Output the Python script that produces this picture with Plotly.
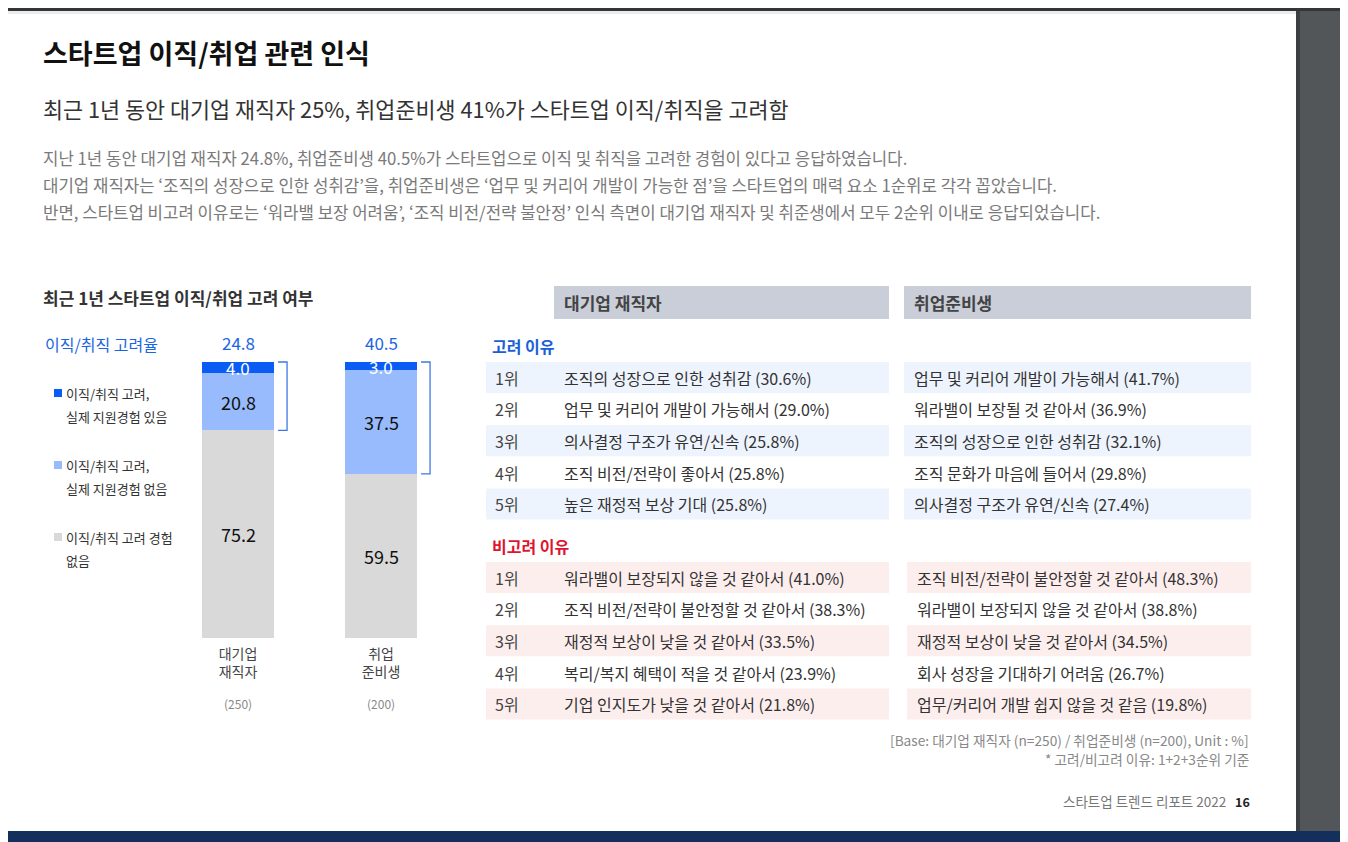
import plotly.graph_objects as go

W, H = 1348, 842
OFF = 8  # 페이지 기본 여백 보정
FONT = "Noto Sans CJK KR"

# 막대 차트 데이터
groups = ["대기업<br>재직자", "취업<br>준비생"]
group_n = ["(250)", "(200)"]
applied = [4.0, 3.0]          # 이직/취직 고려, 실제 지원경험 있음
not_applied = [20.8, 37.5]    # 이직/취직 고려, 실제 지원경험 없음
no_consider = [75.2, 59.5]    # 이직/취직 고려 경험 없음
consider_rate = [24.8, 40.5]

legend_names = [["이직/취직 고려,", "실제 지원경험 있음"],
                ["이직/취직 고려,", "실제 지원경험 없음"],
                ["이직/취직 고려 경험", "없음"]]
colors = ["#0a5cf5", "#97bbfc", "#d9d9d9"]

# 표 데이터
ranks = ["1위", "2위", "3위", "4위", "5위"]
emp_pos = ["조직의 성장으로 인한 성취감", "업무 및 커리어 개발이 가능해서", "의사결정 구조가 유연/신속",
           "조직 비전/전략이 좋아서", "높은 재정적 보상 기대"]
emp_pos_pct = [30.6, 29.0, 25.8, 25.8, 25.8]
job_pos = ["업무 및 커리어 개발이 가능해서", "워라밸이 보장될 것 같아서", "조직의 성장으로 인한 성취감",
           "조직 문화가 마음에 들어서", "의사결정 구조가 유연/신속"]
job_pos_pct = [41.7, 36.9, 32.1, 29.8, 27.4]
emp_neg = ["워라밸이 보장되지 않을 것 같아서", "조직 비전/전략이 불안정할 것 같아서", "재정적 보상이 낮을 것 같아서",
           "복리/복지 혜택이 적을 것 같아서", "기업 인지도가 낮을 것 같아서"]
emp_neg_pct = [41.0, 38.3, 33.5, 23.9, 21.8]
job_neg = ["조직 비전/전략이 불안정할 것 같아서", "워라밸이 보장되지 않을 것 같아서", "재정적 보상이 낮을 것 같아서",
           "회사 성장을 기대하기 어려움", "업무/커리어 개발 쉽지 않을 것 같음"]
job_neg_pct = [48.3, 38.8, 34.5, 26.7, 19.8]

body_lines = [
    "지난 1년 동안 대기업 재직자 24.8%, 취업준비생 40.5%가 스타트업으로 이직 및 취직을 고려한 경험이 있다고 응답하였습니다.",
    "대기업 재직자는 ‘조직의 성장으로 인한 성취감’을, 취업준비생은 ‘업무 및 커리어 개발이 가능한 점’을 스타트업의 매력 요소 1순위로 각각 꼽았습니다.",
    "반면, 스타트업 비고려 이유로는 ‘워라밸 보장 어려움’, ‘조직 비전/전략 불안정’ 인식 측면이 대기업 재직자 및 취준생에서 모두 2순위 이내로 응답되었습니다.",
]

fig = go.Figure()

x_idx = list(range(len(groups)))
for vals, col in [(no_consider, colors[2]), (not_applied, colors[1]), (applied, colors[0])]:
    fig.add_trace(go.Bar(x=x_idx, y=vals, marker=dict(color=col, line=dict(width=0)),
                         width=0.503, hoverinfo="skip", showlegend=False))

def px_x(p):
    return (p - OFF) / W

def px_y(p):
    return 1 - (p - OFF) / H

# 막대 영역: 픽셀 기준 위치
bar_bottom, px_per = 638, 2.76
ymax = 110
dom_top = bar_bottom - ymax * px_per
fig.update_layout(
    barmode="stack",
    xaxis=dict(domain=[px_x(166.5), px_x(452.5)], range=[-0.5, 1.5], tickvals=x_idx, ticktext=groups,
               showgrid=False, zeroline=False, showline=False, ticks="", fixedrange=True,
               ticklabelstandoff=6, tickfont=dict(size=14, color="#444", family=FONT)),
    yaxis=dict(domain=[px_y(bar_bottom), px_y(dom_top)], range=[0, ymax], visible=False, fixedrange=True),
    xaxis2=dict(domain=[0, 1], range=[OFF, W + OFF], visible=False, fixedrange=True, anchor="y2"),
    yaxis2=dict(domain=[0, 1], range=[H + OFF, OFF], visible=False, fixedrange=True, anchor="x2"),
)

ann = []
shapes = []

# 막대 내부 값
for i in x_idx:
    base = 0
    for vals, tc, fs in [(no_consider, "#111", 18), (not_applied, "#111", 18), (applied, "white", 17)]:
        ann.append(dict(x=i, y=base + vals[i] / 2, xref="x", yref="y", text=f"{vals[i]:.1f}",
                        showarrow=False, font=dict(size=fs, color=tc, family=FONT)))
        base += vals[i]
    ann.append(dict(x=i, y=100, xref="x", yref="y", yshift=20, text=f"{consider_rate[i]:.1f}",
                    showarrow=False, font=dict(size=17, color="#1a66e0", family=FONT)))
    ann.append(dict(x=i, y=px_y(703), xref="x", yref="paper", yanchor="middle", text=group_n[i],
                    showarrow=False, font=dict(size=12, color="#888", family=FONT)))
    # 고려율 괄호
    lo = 100 - consider_rate[i]
    shapes.append(dict(type="path", xref="x", yref="y",
                       path=f"M {i+0.28},100 L {i+0.343},100 L {i+0.343},{lo} L {i+0.28},{lo}",
                       line=dict(color="#3b78e7", width=1.3)))

def text(x, y, s, size, color, bold=False, xanchor="left"):
    if bold:
        s = f"<b>{s}</b>"
    ann.append(dict(x=x, y=y, xref="x2", yref="y2", text=s, showarrow=False, xanchor=xanchor,
                    yanchor="middle", font=dict(size=size, color=color, family=FONT)))

def rect(x0, y0, x1, y1, color):
    shapes.append(dict(type="rect", xref="x2", yref="y2", x0=x0, y0=y0, x1=x1, y1=y1,
                       fillcolor=color, line=dict(width=0), layer="below"))

# 페이지 테두리
rect(0, 0, W + OFF, 11, "#323639")
rect(1296, 11, W + OFF, 831, "#525659")
rect(1296, 11, 1300, 831, "#3c3f42")
rect(0, 831, W + OFF, H + OFF, "#13305d")
rect(0, 11, 1296, 14, "#ececec")

# 제목과 본문
text(41, 52, "스타트업 이직/취업 관련 인식", 27, "#111", bold=True)
text(41, 108, "최근 1년 동안 대기업 재직자 25%, 취업준비생 41%가 스타트업 이직/취직을 고려함", 21.8, "#333")
for k, line in enumerate(body_lines):
    text(41, 158 + 27 * k, line, 16.75, "#7a7a7a")

text(41, 297, "최근 1년 스타트업 이직/취업 고려 여부", 17, "#333", bold=True)
text(43, 344, "이직/취직 고려율", 16, "#1a66e0")

# 범례
for k, (names, col) in enumerate(zip(legend_names, colors)):
    yy = 393 + 72 * k
    rect(54, yy - 4, 62, yy + 4, col)
    text(64, yy, names[0], 13, "#333")
    text(64, yy + 23, names[1], 13, "#333")

# 표 머리
rect(554, 286, 889, 319, "#c9ced8")
rect(904, 286, 1251, 319, "#c9ced8")
text(562, 302, "대기업 재직자", 17, "#444", bold=True)
text(912, 302, "취업준비생", 17, "#444", bold=True)

row_h = 31.6
def table(top, title, title_color, band, left_names, left_pct, right_names, right_pct, right_x0):
    text(490, top - 16, title, 16, title_color, bold=True)
    for r in range(len(ranks)):
        y0 = top + r * row_h
        if r % 2 == 0:
            rect(486, y0, 889, y0 + row_h - 0.6, band)
            rect(right_x0, y0, 1251, y0 + row_h - 0.6, band)
        yc = y0 + row_h / 2
        text(493, yc, ranks[r], 16, "#444")
        text(562, yc, f"{left_names[r]} ({left_pct[r]:.1f}%)", 16, "#333")
        text(right_x0 + 8, yc, f"{right_names[r]} ({right_pct[r]:.1f}%)", 16, "#333")

table(362, "고려 이유", "#1a5fd6", "#eef4fe", emp_pos, emp_pos_pct, job_pos, job_pos_pct, 904)
table(562, "비고려 이유", "#e0142e", "#fdeeee", emp_neg, emp_neg_pct, job_neg, job_neg_pct, 907)

# 주석과 쪽번호
text(1251, 740, "[Base: 대기업 재직자 (n=250) / 취업준비생 (n=200), Unit : %]", 13.7, "#888", xanchor="right")
text(1251, 759, "* 고려/비고려 이유: 1+2+3순위 기준", 13.7, "#888", xanchor="right")
text(1228, 801, "스타트업 트렌드 리포트 2022", 13.5, "#777", xanchor="right")
text(1252, 801, "16", 12.5, "#222", bold=True, xanchor="right")

fig.update_layout(
    width=W, height=H, margin=dict(l=0, r=0, t=0, b=0),
    paper_bgcolor="white", plot_bgcolor="rgba(0,0,0,0)",
    annotations=ann, shapes=shapes, font=dict(family=FONT),
)

fig.write_html("out.html")
